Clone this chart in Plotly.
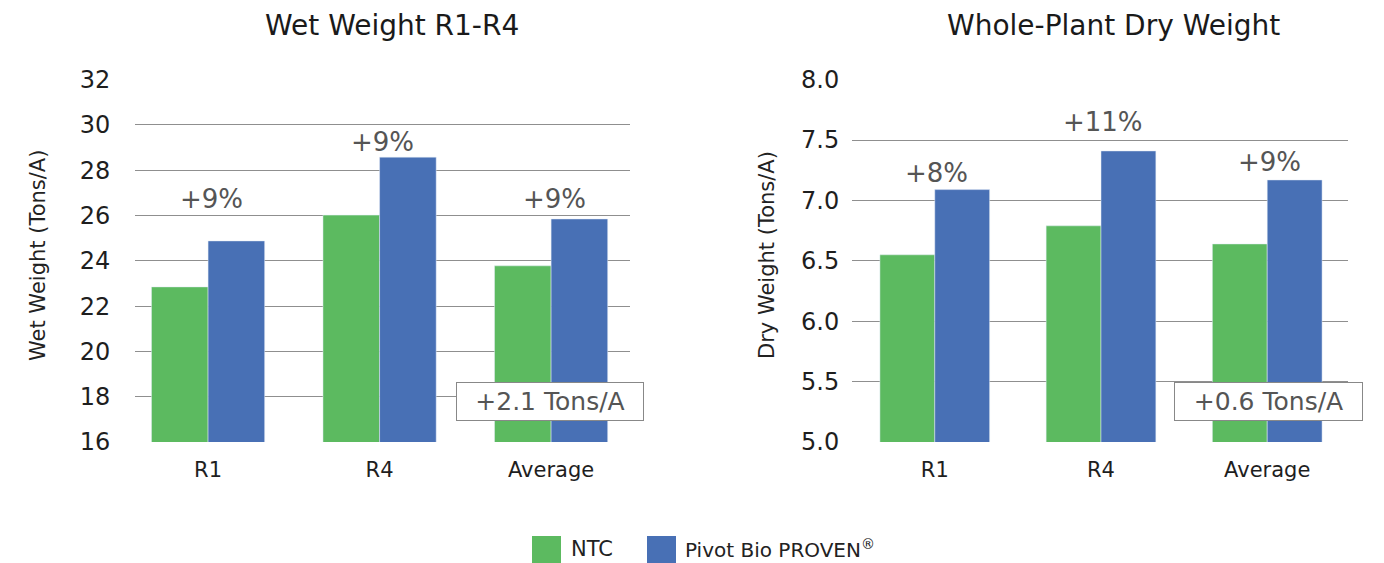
import plotly.graph_objects as go

W, H = 1384, 563

categories = ["R1", "R4", "Average"]
wet_ntc = [22.85, 26.02, 23.78]
wet_pivot = [24.88, 28.58, 25.85]
dry_ntc = [6.55, 6.79, 6.64]
dry_pivot = [7.09, 7.41, 7.17]
wet_pct = ["+9%", "+9%", "+9%"]
dry_pct = ["+8%", "+11%", "+9%"]
wet_label_y = [26.75, 29.27, 26.75]
dry_label_y = [7.23, 7.65, 7.32]
wet_ticks = [16, 18, 20, 22, 24, 26, 28, 30, 32]
dry_ticks = [5.0, 5.5, 6.0, 6.5, 7.0, 7.5, 8.0]
wet_delta = "+2.1 Tons/A"
dry_delta = "+0.6 Tons/A"

GREEN = "#5CBA60"
BLUE = "#4870B5"
FONT = "DejaVu Sans"


def px(x):
    return x / W


def py(y):
    return 1 - y / H


fig = go.Figure()
fig.add_trace(go.Bar(x=categories, y=wet_ntc, marker_color=GREEN, name="NTC",
                     xaxis="x", yaxis="y", showlegend=False))
fig.add_trace(go.Bar(x=categories, y=wet_pivot, marker_color=BLUE, name="Pivot Bio PROVEN®",
                     xaxis="x", yaxis="y", showlegend=False))
fig.add_trace(go.Bar(x=categories, y=dry_ntc, marker_color=GREEN, name="NTC",
                     xaxis="x2", yaxis="y2", showlegend=False))
fig.add_trace(go.Bar(x=categories, y=dry_pivot, marker_color=BLUE, name="Pivot Bio PROVEN®",
                     xaxis="x2", yaxis="y2", showlegend=False))

ydom = [py(442), py(79.7)]
grid = dict(showgrid=True, gridcolor="#8f8f8f", gridwidth=1.4, zeroline=False,
            showline=False, ticks="outside", tickcolor="rgba(0,0,0,0)", automargin=False,
            tickfont=dict(family=FONT, size=24, color="#1e1e1e"))
xcommon = dict(type="category", showgrid=False, showline=False, zeroline=False,
               ticks="outside", ticklen=9, tickcolor="rgba(0,0,0,0)", automargin=False,
               tickfont=dict(family=FONT, size=21, color="#1e1e1e"))

fig.update_layout(
    width=W, height=H,
    margin=dict(l=0, r=0, t=0, b=0, pad=0, autoexpand=False),
    paper_bgcolor="white", plot_bgcolor="white",
    barmode="group", bargap=0.34, bargroupgap=0,
    showlegend=False,
    xaxis=dict(domain=[px(135), px(630)], range=[-0.426, 2.46], anchor="y", **xcommon),
    yaxis=dict(domain=ydom, range=[16, 32], tickvals=wet_ticks, ticklen=19,
               anchor="x", **grid),
    xaxis2=dict(domain=[px(852), px(1348)], range=[-0.498, 2.486], anchor="y2", **xcommon),
    yaxis2=dict(domain=ydom, range=[5, 8], tickvals=dry_ticks, tickformat=".1f",
                ticklen=7, anchor="x2", **grid),
)

C = dict(xanchor="center", yanchor="middle", showarrow=False)
ann = []
# titles
ann.append(dict(text="Wet Weight R1-R4", x=px(392), y=py(26), xref="paper", yref="paper",
                font=dict(family=FONT, size=28, color="#1a1a1a"), **C))
ann.append(dict(text="Whole-Plant Dry Weight", x=px(1113), y=py(26), xref="paper", yref="paper",
                font=dict(family=FONT, size=28, color="#1a1a1a"), **C))
# axis titles
ann.append(dict(text="Wet Weight (Tons/A)", x=px(38), y=py(256), xref="paper", yref="paper",
                textangle=-90, font=dict(family=FONT, size=21, color="#222"), **C))
ann.append(dict(text="Dry Weight (Tons/A)", x=px(767), y=py(255), xref="paper", yref="paper",
                textangle=-90, font=dict(family=FONT, size=21, color="#222"), **C))
# percent labels
for c, t, yv in zip(categories, wet_pct, wet_label_y):
    ann.append(dict(text=t, x=c, y=yv, xref="x", yref="y", xshift=3,
                    font=dict(family=FONT, size=26, color="#555"), **C))
for c, t, yv in zip(categories, dry_pct, dry_label_y):
    ann.append(dict(text=t, x=c, y=yv, xref="x2", yref="y2", xshift=2,
                    font=dict(family=FONT, size=26, color="#555"), **C))
# delta boxes
ann.append(dict(text=wet_delta, x=px(550), y=py(401.5), xref="paper", yref="paper",
                bgcolor="white", bordercolor="#888", borderwidth=1,
                borderpad=0, width=186, height=37,
                font=dict(family=FONT, size=25, color="#555"), **C))
ann.append(dict(text=dry_delta, x=px(1268.5), y=py(401.5), xref="paper", yref="paper",
                bgcolor="white", bordercolor="#888", borderwidth=1,
                borderpad=0, width=187, height=37,
                font=dict(family=FONT, size=25, color="#555"), **C))
# legend text
ann.append(dict(text="NTC", x=px(569), y=py(549), xref="paper", yref="paper", xanchor="left",
                yanchor="middle", showarrow=False, font=dict(family=FONT, size=21, color="#222")))
ann.append(dict(text="Pivot Bio PROVEN<sup>®</sup>", x=px(683), y=py(549), xref="paper", yref="paper",
                xanchor="left", yanchor="middle", showarrow=False,
                font=dict(family=FONT, size=20, color="#222")))

shapes = [
    dict(type="rect", xref="paper", yref="paper", x0=px(532), x1=px(561), y0=py(563), y1=py(536),
         fillcolor=GREEN, line=dict(width=0)),
    dict(type="rect", xref="paper", yref="paper", x0=px(647), x1=px(676), y0=py(563), y1=py(536),
         fillcolor=BLUE, line=dict(width=0)),
]
fig.update_layout(annotations=ann, shapes=shapes)

fig.write_html("out.html", config={"displayModeBar": False},
               post_script="document.body.style.margin='0';document.body.style.overflow='hidden';")
